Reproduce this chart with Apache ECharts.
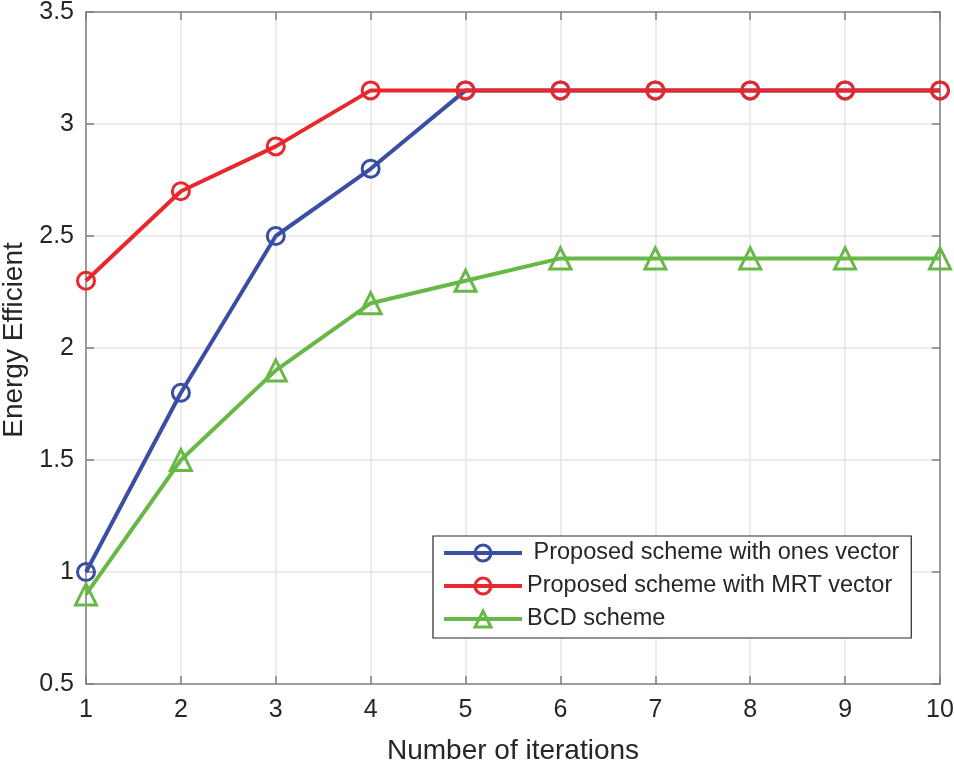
<!DOCTYPE html>
<html>
<head>
<meta charset="utf-8">
<script src="https://cdn.jsdelivr.net/npm/echarts@6/dist/echarts.min.js"></script>
<style>html,body{margin:0;padding:0;background:#fff}#c{width:954px;height:767px}</style>
</head>
<body>
<div id="c"></div>
<script>
const iterations = [1, 2, 3, 4, 5, 6, 7, 8, 9, 10];
const onesVector = [1.0, 1.8, 2.5, 2.8, 3.15, 3.15, 3.15, 3.15, 3.15, 3.15];
const mrtVector = [2.3, 2.7, 2.9, 3.15, 3.15, 3.15, 3.15, 3.15, 3.15, 3.15];
const bcdScheme = [0.9, 1.5, 1.9, 2.2, 2.3, 2.4, 2.4, 2.4, 2.4, 2.4];
const seriesNames = [' Proposed scheme with ones vector', 'Proposed scheme with MRT vector', 'BCD scheme'];

const pairs = vals => iterations.map((x, i) => [x, vals[i]]);
const font = 'Liberation Sans, Arial, Helvetica, sans-serif';
const axisGray = '#7f7f7f';

function mk(name, vals, color, symbol, size) {
  return {
    name: name, type: 'line', data: pairs(vals),
    symbol: symbol, symbolSize: size,
    lineStyle: { color: color, width: 4 },
    itemStyle: { color: 'rgba(255,255,255,0)', borderColor: color, borderWidth: 3 },
    emphasis: { disabled: true },
    xAxisIndex: 0, yAxisIndex: 0
  };
}

const chart = echarts.init(document.getElementById('c'), null, { renderer: 'canvas' });
const baseX = {
  type: 'value', min: 1, max: 10, interval: 1,
  axisLine: { show: true, lineStyle: { color: axisGray, width: 1.5 } },
  axisTick: { show: true, inside: true, length: 8, lineStyle: { color: axisGray, width: 1.5 } }
};
const baseY = {
  type: 'value', min: 0.5, max: 3.5, interval: 0.5,
  axisLine: { show: true, lineStyle: { color: axisGray, width: 1.5 } },
  axisTick: { show: true, inside: true, length: 8, lineStyle: { color: axisGray, width: 1.5 } }
};
chart.setOption({
  animation: false,
  textStyle: { fontFamily: font },
  grid: { left: 86, right: 14, top: 12, bottom: 83, containLabel: false, outerBoundsMode: 'none' },
  xAxis: [
    Object.assign({}, baseX, {
      position: 'bottom',
      name: 'Number of iterations', nameLocation: 'middle', nameGap: 53,
      nameTextStyle: { fontSize: 28, color: '#262626', fontFamily: font },
      axisLabel: { fontSize: 25, color: '#262626', margin: 14, fontFamily: font },
      splitLine: { show: true, lineStyle: { color: '#e6e6e6', width: 1.5 } }
    }),
    Object.assign({}, baseX, {
      position: 'top', axisLabel: { show: false }, splitLine: { show: false }
    })
  ],
  yAxis: [
    Object.assign({}, baseY, {
      position: 'left',
      name: 'Energy Efficient', nameLocation: 'middle', nameGap: 56,
      nameTextStyle: { fontSize: 28, color: '#262626', fontFamily: font, padding: [0, 0, 0, 16] },
      axisLabel: { fontSize: 25, color: '#262626', margin: 12, fontFamily: font,
        formatter: v => String(v) },
      splitLine: { show: true, lineStyle: { color: '#e6e6e6', width: 1.5 } }
    }),
    Object.assign({}, baseY, {
      position: 'right', axisLabel: { show: false }, splitLine: { show: false }
    })
  ],
  legend: {
    orient: 'vertical', left: 433, top: 536,
    backgroundColor: '#fff', borderColor: '#262626', borderWidth: 1.2,
    padding: [4, 12, 6, 9],
    itemWidth: 78, itemHeight: 20, itemGap: 7,
    lineStyle: { width: 4 },
    itemStyle: { borderWidth: 3 },
    textStyle: { fontSize: 23.5, color: '#262626', fontFamily: font, lineHeight: 26 },
    data: seriesNames
  },
  series: [
    mk(seriesNames[0], onesVector, '#3a4ea3', 'circle', 17),
    mk(seriesNames[1], mrtVector, '#e8282c', 'circle', 17),
    mk(seriesNames[2], bcdScheme, '#67b846', 'triangle', 21)
  ]
});
</script>
</body>
</html>
